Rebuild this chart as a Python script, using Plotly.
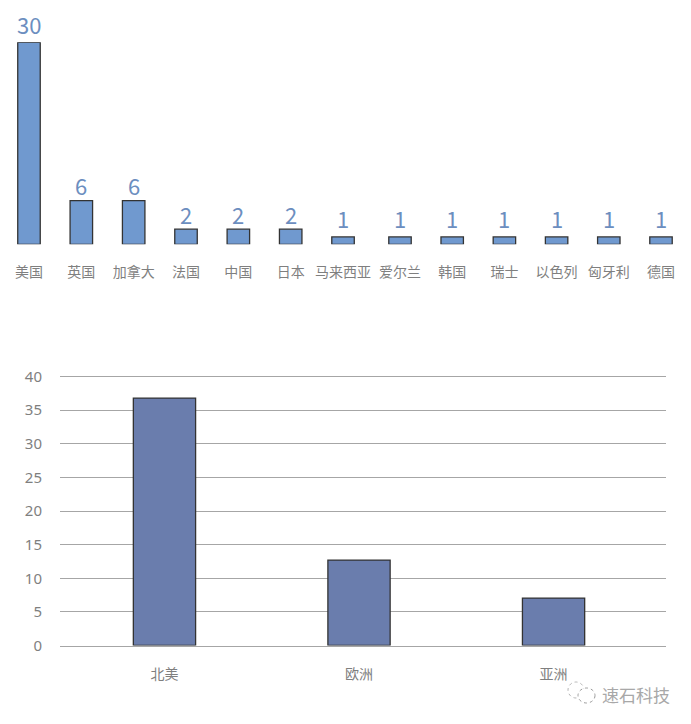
import plotly.graph_objects as go

PAGE_W, PAGE_H = 691, 724
BODY = 8  # the page body's default margin
W, H = PAGE_W - BODY, PAGE_H - BODY
CJK = "Noto Sans CJK SC"

# Top chart
countries_a = ["美国", "英国", "加拿大", "法国", "中国", "日本", "马来西亚"]
heights_a = [30, 6.5, 6.5, 2.25, 2.25, 2.25, 1.1]
labels_a = ["30", "6", "6", "2", "2", "2", "1"]
countries_b = ["爱尔兰", "韩国", "瑞士", "以色列", "匈牙利", "德国"]
heights_b = [1.1, 1.1, 1.1, 1.1, 1.1, 1.1]
labels_b = ["1", "1", "1", "1", "1", "1"]

# Bottom chart
regions = ["北美", "欧洲", "亚洲"]
region_values = [36.8, 12.7, 7.05]
region_ticks = [0, 5, 10, 15, 20, 25, 30, 35, 40]

BLUE = "#7099CF"
LABEL_BLUE = "#6C8EBF"
DARK_BLUE = "#6A7DAD"
EDGE = "#333333"
GREY = "#7F7F7F"
LABEL_LIFT = {"30": 18, "6": 16, "2": 15, "1": 19}

def px_x(p):
    return (p - BODY) / W

def px_y(p):
    return 1 - (p - BODY) / H

fig = go.Figure()

for names, vals, labs, xa in [
    (countries_a, heights_a, labels_a, "x"),
    (countries_b, heights_b, labels_b, "x2"),
]:
    fig.add_trace(go.Bar(
        x=names, y=vals,
        width=0.43, marker=dict(color=BLUE, line=dict(color=EDGE, width=1.3)),
        xaxis=xa, yaxis="y", showlegend=False, hoverinfo="skip", cliponaxis=False,
    ))
    for n, v, t in zip(names, vals, labs):
        fig.add_annotation(
            x=n, y=v, xref=xa, yref="y", text=t, showarrow=False,
            yanchor="middle", yshift=LABEL_LIFT[t],
            font=dict(family=CJK, size=22, color=LABEL_BLUE),
        )

fig.add_trace(go.Bar(
    x=regions, y=region_values, width=0.32,
    marker=dict(color=DARK_BLUE, line=dict(color=EDGE, width=1.3)),
    xaxis="x3", yaxis="y3", showlegend=False, cliponaxis=False,
))

tickfont = dict(family=CJK, size=14, color=GREY)

fig.update_layout(
    width=W, height=H, autosize=False,
    margin=dict(l=0, r=0, t=0, b=0),
    paper_bgcolor="white", plot_bgcolor="white",
    font=dict(family=CJK),
    xaxis=dict(domain=[px_x(8), px_x(369.2)], type="category", range=[-0.401, 6.5],
               showgrid=False, zeroline=False, showline=False, ticks="",
               tickfont=tickfont, ticklabelstandoff=18, tickangle=0, automargin=False),
    xaxis2=dict(domain=[px_x(373.9), px_x(687.1)], type="category", range=[-0.5, 5.5],
                anchor="y", showgrid=False, zeroline=False, showline=False, ticks="",
                tickfont=tickfont, ticklabelstandoff=18, tickangle=0, automargin=False),
    yaxis=dict(domain=[px_y(244.3), px_y(42.3)], range=[0, 30], visible=False),
    xaxis3=dict(domain=[px_x(60), px_x(666)], type="category", range=[-0.537, 2.578],
                anchor="y3", showgrid=False, zeroline=False, showline=True,
                linecolor="#A6A6A6", linewidth=1, ticks="",
                tickfont=tickfont, ticklabelstandoff=16, automargin=False),
    yaxis3=dict(domain=[px_y(645.5), px_y(369.8)], range=[0, 41], anchor="x3",
                tickvals=region_ticks, showgrid=True, gridcolor="#A6A6A6", gridwidth=1,
                zeroline=False, showline=False, ticks="",
                tickfont=dict(family="Noto Sans", size=15, color=GREY),
                ticklabelstandoff=17, automargin=False),
)

# Watermark: WeChat-style outline mark and account name
fig.add_shape(type="circle", xref="paper", yref="paper",
              x0=px_x(568), x1=px_x(584), y0=px_y(698), y1=px_y(682),
              line=dict(color="#B5B5B5", width=1, dash="dot"), fillcolor="white")
fig.add_shape(type="circle", xref="paper", yref="paper",
              x0=px_x(578), x1=px_x(595), y0=px_y(703), y1=px_y(688),
              line=dict(color="#9A9A9A", width=1, dash="dot"), fillcolor="white")
fig.add_annotation(text="速石科技", xref="paper", yref="paper",
                   x=px_x(600), y=px_y(694), xanchor="left", yanchor="middle",
                   showarrow=False, font=dict(family=CJK, size=17, color="#A8A8A8"))

fig.write_html("out.html")
